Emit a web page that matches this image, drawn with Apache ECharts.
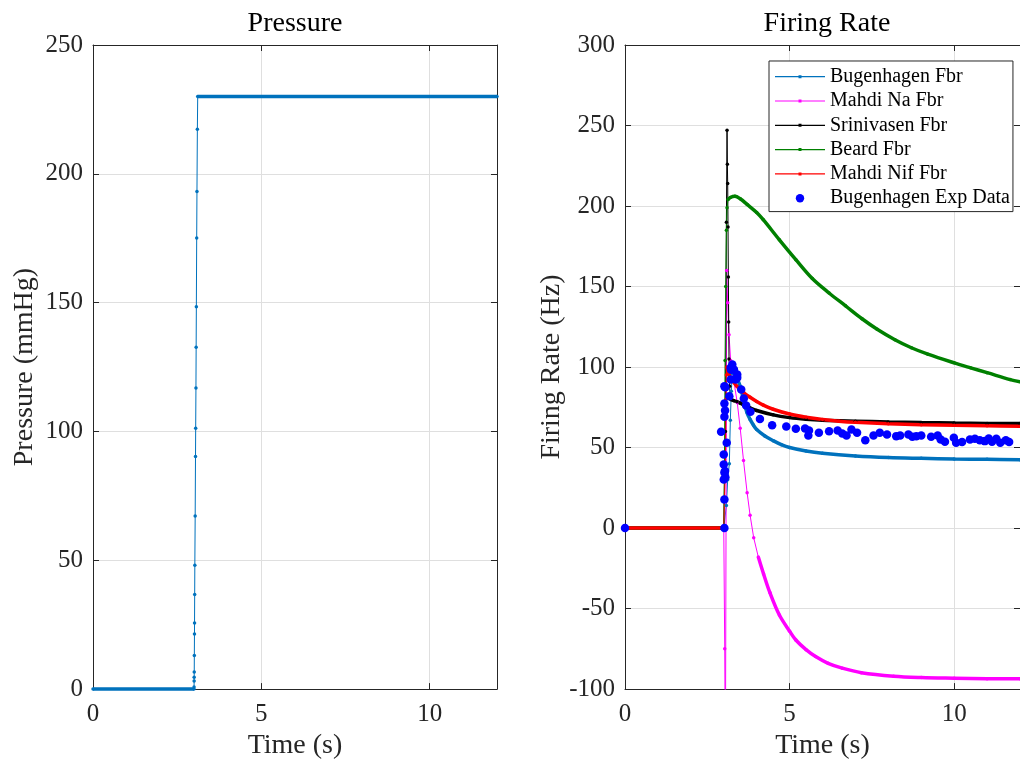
<!DOCTYPE html>
<html>
<head>
<meta charset="utf-8">
<script src="https://cdn.jsdelivr.net/npm/echarts@6/dist/echarts.min.js"></script>
<style>
  html, body { margin: 0; padding: 0; background: #ffffff; }
  #chart { width: 1020px; height: 765px; }
</style>
</head>
<body>
<div id="chart"></div>
<script>
// ---- Pressure step (mmHg) ----
const pressureTime  = [0, 3.000, 3.002, 3.004, 3.005, 3.007, 3.010, 3.014, 3.016, 3.020, 3.025, 3.035, 3.045, 3.050, 3.058, 3.064, 3.070, 3.080, 3.088, 3.100, 3.110, 12];
const pressureValue = [0, 0, 0.8, 3.1, 4.6, 6.6, 13.0, 21.4, 25.7, 36.7, 48.1, 67.2, 90.3, 101.2, 116.9, 132.7, 148.4, 175.1, 193.1, 217.3, 230, 230];

// ---- Firing rate models (Hz) ----
const bugenhagenTime = [0, 3.0, 3.05, 3.08, 3.12, 3.17, 3.2, 3.23, 3.26, 3.3, 3.4, 3.5, 3.6, 3.7, 3.8, 3.9, 4.0, 4.25, 4.5, 4.75, 5.0, 5.5, 6.0, 7.0, 8.0, 9.0, 10.0, 11.0, 12.0];
const bugenhagenFbr  = [0, 0, 0, 14, 30, 40, 67, 85, 96, 96, 93, 88, 80, 72, 67.5, 64, 61.2, 57.2, 54.3, 51.8, 50, 47.9, 46.5, 44.8, 43.8, 43.3, 42.9, 42.7, 42.5];

const mahdiNaTime = [0, 3.0, 3.03, 3.05, 3.09, 3.12, 3.16, 3.21, 3.3, 3.41, 3.5, 3.6, 3.71, 3.8, 3.91, 4.05, 4.21, 4.4, 4.69, 5.0, 5.19, 5.5, 5.79, 6.17, 6.6, 7.18, 8.16, 9.0, 10.0, 11.0, 12.0];
const mahdiNaFbr  = [0, 0, -75, -150, 160, 140, 120, 104, 92, 78, 62, 42, 22, 8, -6, -18, -28.5, -40, -54, -64, -69.5, -75.5, -79.8, -84, -87, -89.8, -92, -92.8, -93.2, -93.5, -93.6];

const srinivasenTime = [0, 3.0, 3.05, 3.08, 3.1, 3.11, 3.12, 3.13, 3.14, 3.15, 3.16, 3.18, 3.2, 3.3, 3.4, 3.5, 3.6, 3.8, 4.0, 4.5, 5.0, 5.5, 6.0, 7.0, 8.0, 9.0, 10.0, 11.0, 12.0];
const srinivasenFbr  = [0, 0, 60, 190, 247, 226, 214, 187, 156, 128, 105, 88, 80, 79.2, 78.5, 77.6, 76.5, 74.6, 73, 70.3, 68.6, 67.6, 67, 66.4, 65.9, 65.5, 65.2, 65, 64.9];

const beardTime = [0, 3.0, 3.02, 3.04, 3.06, 3.08, 3.1, 3.13, 3.2, 3.34, 3.5, 3.71, 4.0, 4.2, 4.69, 5.19, 5.69, 6.2, 6.7, 7.2, 7.66, 8.2, 8.7, 9.2, 10.0, 10.5, 11.0, 11.7, 12.0];
const beardFbr  = [0, 0, 40, 104, 150, 185, 199, 204, 205.3, 206, 204.5, 201, 196, 191.5, 179, 166.7, 155, 146, 138, 130, 123.5, 117, 112, 108, 102.6, 99.5, 96.5, 92.2, 90.8];

const mahdiNifTime = [0, 3.0, 3.03, 3.05, 3.07, 3.08, 3.09, 3.15, 3.22, 3.4, 3.61, 3.8, 4.0, 4.2, 4.5, 5.0, 5.5, 6.0, 6.5, 7.0, 8.0, 9.0, 10.0, 11.0, 12.0];
const mahdiNifFbr  = [0, 0, 0, 40, 80, 95, 100, 96, 93, 88, 84, 81.2, 78.6, 76.4, 73.8, 70.8, 68.8, 67.4, 66.4, 65.7, 64.8, 64.2, 63.8, 63.5, 63.2];

// ---- Experimental recordings ----
const expTime = [0, 3.02, 3.02, 3.0, 3.05, 3.02, 3.0, 3.04, 3.0, 3.09, 2.92, 3.02, 3.04, 3.02, 3.05, 3.02, 3.17, 3.21, 3.21, 3.26, 3.31, 3.22, 3.41, 3.36, 3.41, 3.53, 3.61, 3.68, 3.81, 4.1, 4.47, 4.9, 5.19, 5.47, 5.57, 5.59, 5.89, 6.2, 6.46, 6.6, 6.73, 6.88, 7.05, 7.3, 7.55, 7.74, 7.96, 8.24, 8.36, 8.61, 8.73, 8.85, 9.0, 9.3, 9.5, 9.59, 9.72, 9.99, 10.06, 10.24, 10.48, 10.63, 10.78, 10.93, 11.05, 11.15, 11.28, 11.4, 11.57, 11.67];
const expRate = [0, 0, 17.8, 30.2, 31.5, 34.5, 39.5, 35.4, 45.7, 53, 59.8, 69.1, 73, 77.4, 87.5, 88, 81.9, 92.2, 99.5, 101.6, 98.4, 98.4, 95.3, 92.2, 93.3, 86, 80.5, 76.1, 72.2, 67.8, 63.9, 63.1, 61.7, 61.9, 57.5, 60.6, 59.2, 60.2, 60.6, 58.8, 57.5, 61.2, 59.2, 54.6, 57.5, 59.2, 58.1, 57.1, 57.5, 58.1, 56.7, 57.1, 57.5, 56.7, 57.5, 55, 53.6, 56.1, 53, 53.4, 55, 55.5, 54.6, 54, 55.7, 53.6, 55.5, 53, 54.6, 53.4];

// ---- Axis ticks / text ----
const timeTicks = { min: 0, max: 12, interval: 5 };
const pressureTicks = { min: 0, max: 250, interval: 50 };
const rateTicks = { min: -100, max: 300, interval: 50 };

const serif = 'Liberation Serif';
const axisColor = '#262626';
const gridColor = '#dfdfdf';

const chart = echarts.init(document.getElementById('chart'), null, { renderer: 'canvas' });

function pairs(ts, vs) { return ts.map((t, i) => [t, vs[i]]); }
// plateau parts of a trace (outside the fast transient) drawn heavier
function plateau(ts, vs, a, b) { return ts.map((t, i) => (t > a && t < b) ? [t, '-'] : [t, vs[i]]); }

function trace(name, color, ts, vs, fastFrom, fastTo, xi, yi, clip) {
  return [
    {
      type: 'line', name, xAxisIndex: xi, yAxisIndex: yi, clip,
      data: plateau(ts, vs, fastFrom, fastTo),
      showSymbol: false, connectNulls: false, silent: true,
      smooth: 0.35,
      lineStyle: { color, width: 3.5 }, itemStyle: { color }
    },
    {
      type: 'line', name, xAxisIndex: xi, yAxisIndex: yi, clip,
      data: pairs(ts, vs),
      symbol: 'circle', symbolSize: 3.5, showAllSymbol: true, silent: true,
      lineStyle: { color, width: 1 }, itemStyle: { color, borderWidth: 0 }
    }
  ];
}

function xAxisDef(grid, pos) {
  const main = pos === 'bottom';
  return {
    type: 'value', gridIndex: grid, position: pos,
    min: timeTicks.min, max: timeTicks.max, interval: timeTicks.interval,
    name: main ? 'Time (s)' : '', nameLocation: 'middle', nameGap: 41,
    nameTextStyle: { fontFamily: serif, fontSize: 28, color: '#262626' },
    axisLine: { show: true, onZero: false, lineStyle: { color: axisColor, width: 1 } },
    axisTick: { show: true, inside: true, length: 6, lineStyle: { color: axisColor } },
    axisLabel: { show: main, margin: 13, fontFamily: serif, fontSize: 25, color: '#262626', showMaxLabel: false },
    splitLine: { show: main, lineStyle: { color: gridColor, width: 1 } }
  };
}

function yAxisDef(grid, pos, ticks, title, gap) {
  const main = pos === 'left';
  return {
    type: 'value', gridIndex: grid, position: pos,
    min: ticks.min, max: ticks.max, interval: ticks.interval,
    name: main ? title : '', nameLocation: 'middle', nameGap: gap,
    nameTextStyle: { fontFamily: serif, fontSize: 28, color: '#262626' },
    axisLine: { show: true, onZero: false, lineStyle: { color: axisColor, width: 1 } },
    axisTick: { show: true, inside: true, length: 6, lineStyle: { color: axisColor } },
    axisLabel: { show: main, margin: 10, fontFamily: serif, fontSize: 25, color: '#262626' },
    splitLine: { show: main, lineStyle: { color: gridColor, width: 1 } }
  };
}

const lineIcon = 'path://M0,0M50,10M0,4.4L50,4.4L50,5.6L0,5.6ZM23.5,3.5L26.5,3.5L26.5,6.5L23.5,6.5Z';
const dotIcon = 'path://M0,0M50,10M20.8,5A4.2,4.2 0 1 1 29.2,5A4.2,4.2 0 1 1 20.8,5Z';

const models = [
  { name: 'Bugenhagen Fbr', color: '#0072BD', t: bugenhagenTime, v: bugenhagenFbr, fast: [3.0, 3.3] },
  { name: 'Mahdi Na Fbr', color: '#FF00FF', t: mahdiNaTime, v: mahdiNaFbr, fast: [3.0, 4.05] },
  { name: 'Srinivasen Fbr', color: '#000000', t: srinivasenTime, v: srinivasenFbr, fast: [3.0, 3.2] },
  { name: 'Beard Fbr', color: '#008000', t: beardTime, v: beardFbr, fast: [3.0, 3.13] },
  { name: 'Mahdi Nif Fbr', color: '#FF0000', t: mahdiNifTime, v: mahdiNifFbr, fast: [3.0, 3.09] }
];

const series = [];
series.push(...trace('Pressure', '#0072BD', pressureTime, pressureValue, 3.0, 3.11, 0, 0, false));
models.forEach(m => series.push(...trace(m.name, m.color, m.t, m.v, m.fast[0], m.fast[1], 2, 2, true)));
series.push({
  type: 'scatter', name: 'Bugenhagen Exp Data', xAxisIndex: 2, yAxisIndex: 2,
  data: pairs(expTime, expRate), symbol: 'circle', symbolSize: 8.5, silent: true,
  itemStyle: { color: '#0000FF', opacity: 1 }, z: 5
});

chart.setOption({
  animation: false,
  backgroundColor: '#ffffff',
  grid: [
    { left: 93, top: 45, width: 404, bottom: 75, containLabel: false },
    { left: 625, top: 45, width: 404, bottom: 75, containLabel: false }
  ],
  xAxis: [xAxisDef(0, 'bottom'), xAxisDef(0, 'top'), xAxisDef(1, 'bottom'), xAxisDef(1, 'top')],
  yAxis: [
    yAxisDef(0, 'left', pressureTicks, 'Pressure (mmHg)', 54),
    yAxisDef(0, 'right', pressureTicks, '', 0),
    yAxisDef(1, 'left', rateTicks, 'Firing Rate (Hz)', 59),
    yAxisDef(1, 'right', rateTicks, '', 0)
  ],
  legend: {
    orient: 'vertical', left: 769, top: 61,
    itemWidth: 50, itemHeight: 10, itemGap: 4.3,
    padding: [5.7, 3, 3.4, 6],
    backgroundColor: '#ffffff', borderColor: axisColor, borderWidth: 1, borderRadius: 0,
    selectedMode: false,
    itemStyle: { borderWidth: 0 },
    textStyle: { fontFamily: serif, fontSize: 20, color: '#000000', lineHeight: 20 },
    data: models.map(m => ({ name: m.name, icon: lineIcon, itemStyle: { color: m.color, borderWidth: 0 } }))
      .concat([{ name: 'Bugenhagen Exp Data', icon: dotIcon, itemStyle: { color: '#0000FF', borderWidth: 0 } }])
  },
  graphic: [
    { type: 'text', x: 295, y: 23.5, style: { text: 'Pressure', fontFamily: serif, fontSize: 28, fill: '#000000', textAlign: 'center', textVerticalAlign: 'middle' } },
    { type: 'text', x: 827, y: 23.5, style: { text: 'Firing Rate', fontFamily: serif, fontSize: 28, fill: '#000000', textAlign: 'center', textVerticalAlign: 'middle' } }
  ],
  series
});
</script>
</body>
</html>
